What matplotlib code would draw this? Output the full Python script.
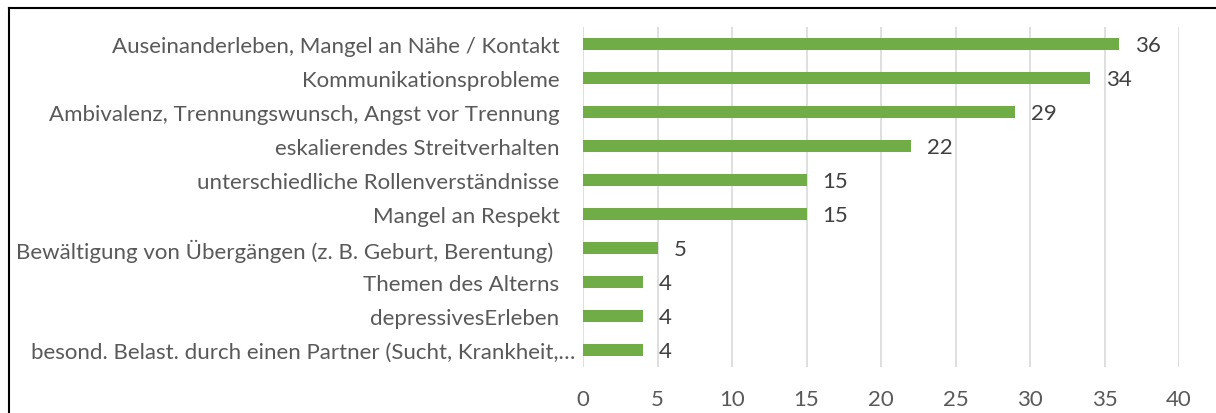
import matplotlib
matplotlib.use("Agg")
import matplotlib.pyplot as plt
from matplotlib.lines import Line2D
from matplotlib.transforms import ScaledTranslation

# data (top to bottom, as in the chart)
categories = [
    "Auseinanderleben, Mangel an Nähe / Kontakt",
    "Kommunikationsprobleme",
    "Ambivalenz, Trennungswunsch, Angst vor Trennung",
    "eskalierendes Streitverhalten",
    "unterschiedliche Rollenverständnisse",
    "Mangel an Respekt",
    "Bewältigung von Übergängen (z. B. Geburt, Berentung) ",
    "Themen des Alterns",
    "depressivesErleben",
    "besond. Belast. durch einen Partner (Sucht, Krankheit,…",
]
values = [36, 34, 29, 22, 15, 15, 5, 4, 4, 4]
xticks = [0, 5, 10, 15, 20, 25, 30, 35, 40]

plt.rcParams["font.family"] = ["Lato", "DejaVu Sans"]

fig = plt.figure(figsize=(12.16, 4.14), dpi=100)
W, H = 1216, 414
ax = fig.add_axes([583 / W, 1 - 368 / H, (1179 - 583) / W, (368 - 28) / H])

ypos = list(range(len(categories)))
ax.barh(ypos, values, height=0.36, color="#70AD47", zorder=3)

for y, v in zip(ypos, values):
    ax.annotate(str(v), xy=(v, y), xytext=(11.5, -1), textcoords="offset points",
                ha="left", va="center", fontsize=16, color="#404040")

ax.set_xlim(0, 40)
ax.set_ylim(len(categories) - 0.5, -0.5)
ax.set_xticks(xticks)
ax.set_yticks(ypos)
ax.set_yticklabels(categories)
ax.tick_params(axis="y", length=0, pad=17, labelsize=16, labelcolor="#595959")
ax.tick_params(axis="x", length=0, pad=16, labelsize=16, labelcolor="#595959")
ax.grid(axis="x", color="#D9D9D9", linewidth=1.2, zorder=0)
ax.set_axisbelow(True)
for s in ax.spines.values():
    s.set_visible(False)

# the truncated last label sits a bit further right in the original
lbl = ax.get_yticklabels()[-1]
lbl.set_transform(lbl.get_transform() + ScaledTranslation(16 / 100, 0, fig.dpi_scale_trans))

# chart border (only top and left edges visible in the crop)
fig.add_artist(Line2D([9 / W, 9 / W], [0, 1 - 9 / H], transform=fig.transFigure,
                      color="#000000", linewidth=1.5))
fig.add_artist(Line2D([9 / W, 1], [1 - 9 / H, 1 - 9 / H], transform=fig.transFigure,
                      color="#000000", linewidth=1.5))

fig.savefig("out.png", dpi=100)
